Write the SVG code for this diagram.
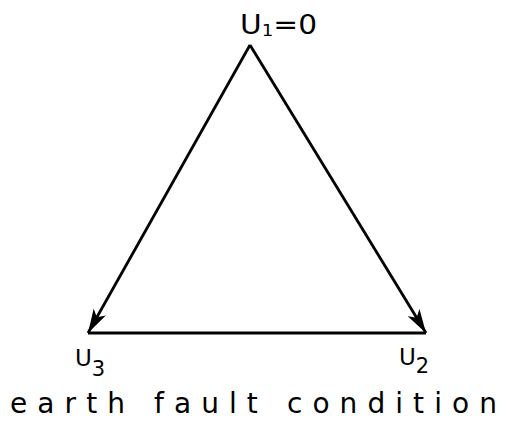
<svg xmlns="http://www.w3.org/2000/svg" width="506" height="425" viewBox="0 0 506 425">
<style>
.ln{stroke:#000;stroke-width:2.8;fill:none}
.lbl{font-family:"DejaVu Sans","Liberation Sans",sans-serif;fill:#000}
</style>
<defs>
<marker id="ah" markerUnits="userSpaceOnUse" markerWidth="26" markerHeight="14" refX="24" refY="7" orient="auto">
<path d="M0,0 L24,7 L0,14 L6,7 Z" fill="#000"/>
</marker>
</defs>
<rect width="506" height="425" fill="#fff"/>
<g id="connectors">
<line class="ln" x1="250" y1="45" x2="88" y2="333" marker-end="url(#ah)"/>
<line class="ln" x1="250" y1="45" x2="426" y2="333" marker-end="url(#ah)"/>
<line class="ln" x1="88" y1="333" x2="426" y2="333"/>
</g>
<g id="U1">
<text class="lbl" x="240" y="34" font-size="26" textLength="77" lengthAdjust="spacingAndGlyphs">U<tspan font-size="16" dy="2">1</tspan><tspan dy="-2">=0</tspan></text>
</g>
<g id="U3">
<text class="lbl" x="75" y="366" font-size="23">U<tspan font-size="21" dy="10">3</tspan></text>
</g>
<g id="U2">
<text class="lbl" x="399" y="365" font-size="23">U<tspan font-size="21" dy="8">2</tspan></text>
</g>
<g id="caption">
<text class="lbl" x="10" y="413" font-size="28" textLength="487" lengthAdjust="spacing">earth fault condition</text>
</g>
</svg>
